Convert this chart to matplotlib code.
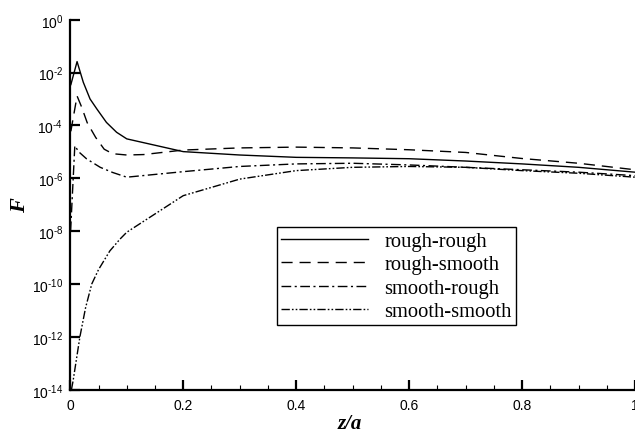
import numpy as np
import matplotlib
matplotlib.use('Agg')
import matplotlib.pyplot as plt
from matplotlib.ticker import FixedLocator, NullLocator, MultipleLocator

plt.rcParams['font.family'] = 'Liberation Sans'
plt.rcParams['mathtext.fontset'] = 'custom'
plt.rcParams['mathtext.rm'] = 'Liberation Sans'
plt.rcParams['mathtext.it'] = 'Liberation Sans:italic'
plt.rcParams['mathtext.bf'] = 'Liberation Sans:bold'

#data (F values)
z_rr = [0.001, 0.012, 0.023, 0.035, 0.047, 0.064, 0.082, 0.1, 0.2, 0.3, 0.4, 0.5,
        0.6, 0.7, 0.8, 0.9, 1.0]
F_rr = [3.5e-3, 2.6e-2, 4.3e-3, 1.0e-3, 4.2e-4, 1.3e-4, 5.5e-5, 3.1e-5, 1.02e-5,
        7.6e-6, 6.2e-6, 5.9e-6, 5.5e-6, 4.5e-6, 3.5e-6, 2.6e-6, 1.7e-6]

z_rs = [0.001, 0.012, 0.02, 0.03, 0.045, 0.06, 0.075, 0.1, 0.13, 0.2, 0.3, 0.4,
        0.5, 0.6, 0.7, 0.8, 0.9, 1.0]
F_rs = [6.0e-5, 1.3e-3, 5.0e-4, 1.26e-4, 3.5e-5, 1.26e-5, 8.5e-6, 7.6e-6, 7.9e-6,
        1.17e-5, 1.41e-5, 1.51e-5, 1.41e-5, 1.2e-5, 9.5e-6, 5.6e-6, 3.7e-6, 2.1e-6]

z_sr = [0.0005, 0.008, 0.015, 0.029, 0.053, 0.075, 0.1, 0.2, 0.3, 0.4, 0.5, 0.6,
        0.7, 0.8, 0.9, 1.0]
F_sr = [1.0e-8, 1.7e-5, 1.0e-5, 5.4e-6, 2.6e-6, 1.66e-6, 1.1e-6, 1.78e-6, 2.8e-6,
        3.5e-6, 3.7e-6, 3.2e-6, 2.6e-6, 2.1e-6, 1.7e-6, 1.26e-6]

z_ss = [0.002, 0.005, 0.017, 0.027, 0.038, 0.05, 0.07, 0.088, 0.1, 0.2, 0.3,
        0.4, 0.5, 0.6, 0.7, 0.8, 0.9, 1.0]
F_ss = [1.0e-14, 2.2e-14, 1.0e-12, 1.25e-11, 1.0e-10, 3.5e-10, 1.78e-9,
        5.0e-9, 9.1e-9, 2.2e-7, 9.3e-7, 1.95e-6, 2.6e-6, 2.8e-6, 2.6e-6, 1.95e-6,
        1.55e-6, 1.1e-6]

labels = ['rough-rough', 'rough-smooth', 'smooth-rough', 'smooth-smooth']
yticks = [1e-14, 1e-12, 1e-10, 1e-8, 1e-6, 1e-4, 1e-2, 1e0]
ytick_labels = ['$10^{\u201014}$', '$10^{\u201012}$', '$10^{\u201010}$', '$10^{\u20108}$',
                '$10^{\u20106}$', '$10^{\u20104}$', '$10^{\u20102}$', '$10^{0}$']
xticks = [0, 0.2, 0.4, 0.6, 0.8, 1.0]
xtick_labels = ['0', '0.2', '0.4', '0.6', '0.8', '1']

fig = plt.figure(figsize=(6.35, 4.35), dpi=100)
ax = fig.add_axes([0.1107, 0.1018, 0.8893, 0.8506])

lw = 1.0
ax.plot(z_rr, F_rr, color='k', lw=lw, ls='-', label=labels[0])
ax.plot(z_rs, F_rs, color='k', lw=lw, ls=(0, (8, 5)), label=labels[1])
ax.plot(z_sr, F_sr, color='k', lw=lw, ls=(0, (7, 2.5, 1.5, 2.5)), label=labels[2])
ax.plot(z_ss, F_ss, color='k', lw=lw, ls=(0, (6, 1.5, 1.2, 1.5, 1.2, 1.5)), label=labels[3])

ax.set_yscale('log')
ax.set_ylim(1e-14, 1e0)
ax.set_xlim(0, 1.0)
ax.yaxis.set_major_locator(FixedLocator(yticks))
ax.set_yticklabels(ytick_labels)
ax.yaxis.set_minor_locator(NullLocator())
ax.set_xticks(xticks)
ax.set_xticklabels(xtick_labels)
ax.xaxis.set_minor_locator(MultipleLocator(0.05))

ax.spines['top'].set_visible(False)
ax.spines['right'].set_visible(False)
ax.spines['left'].set_linewidth(1.6)
ax.spines['bottom'].set_linewidth(1.6)
ax.tick_params(axis='both', which='major', direction='in', length=7.5, width=1.6,
               labelsize=10)
ax.tick_params(axis='x', which='major', pad=6)
ax.tick_params(axis='y', which='major', pad=5)
ax.tick_params(axis='x', which='minor', direction='in', length=3.5, width=0.8)

ax.set_xlabel('z/a', fontsize=15, fontfamily='Liberation Serif', fontweight='bold',
              fontstyle='italic')
ax.xaxis.label.set_va('center')
ax.xaxis.set_label_coords(0.495, -0.09)
ax.set_ylabel('F', fontsize=16, fontfamily='Liberation Serif', fontweight='bold',
              fontstyle='italic')
ax.yaxis.label.set_va('center')
ax.yaxis.set_label_coords(-0.089, 0.5)

leg = ax.legend(loc='upper left', bbox_to_anchor=(0.4367, 0.4752),
                bbox_transform=fig.transFigure, borderaxespad=0,
                prop={'family': 'Liberation Serif', 'size': 14.8},
                handlelength=4.2, handletextpad=0.8, labelspacing=0.2,
                borderpad=0.2, fancybox=False, framealpha=1, edgecolor='k')
leg.get_frame().set_linewidth(1.0)

fig.savefig('out.png', dpi=100)
